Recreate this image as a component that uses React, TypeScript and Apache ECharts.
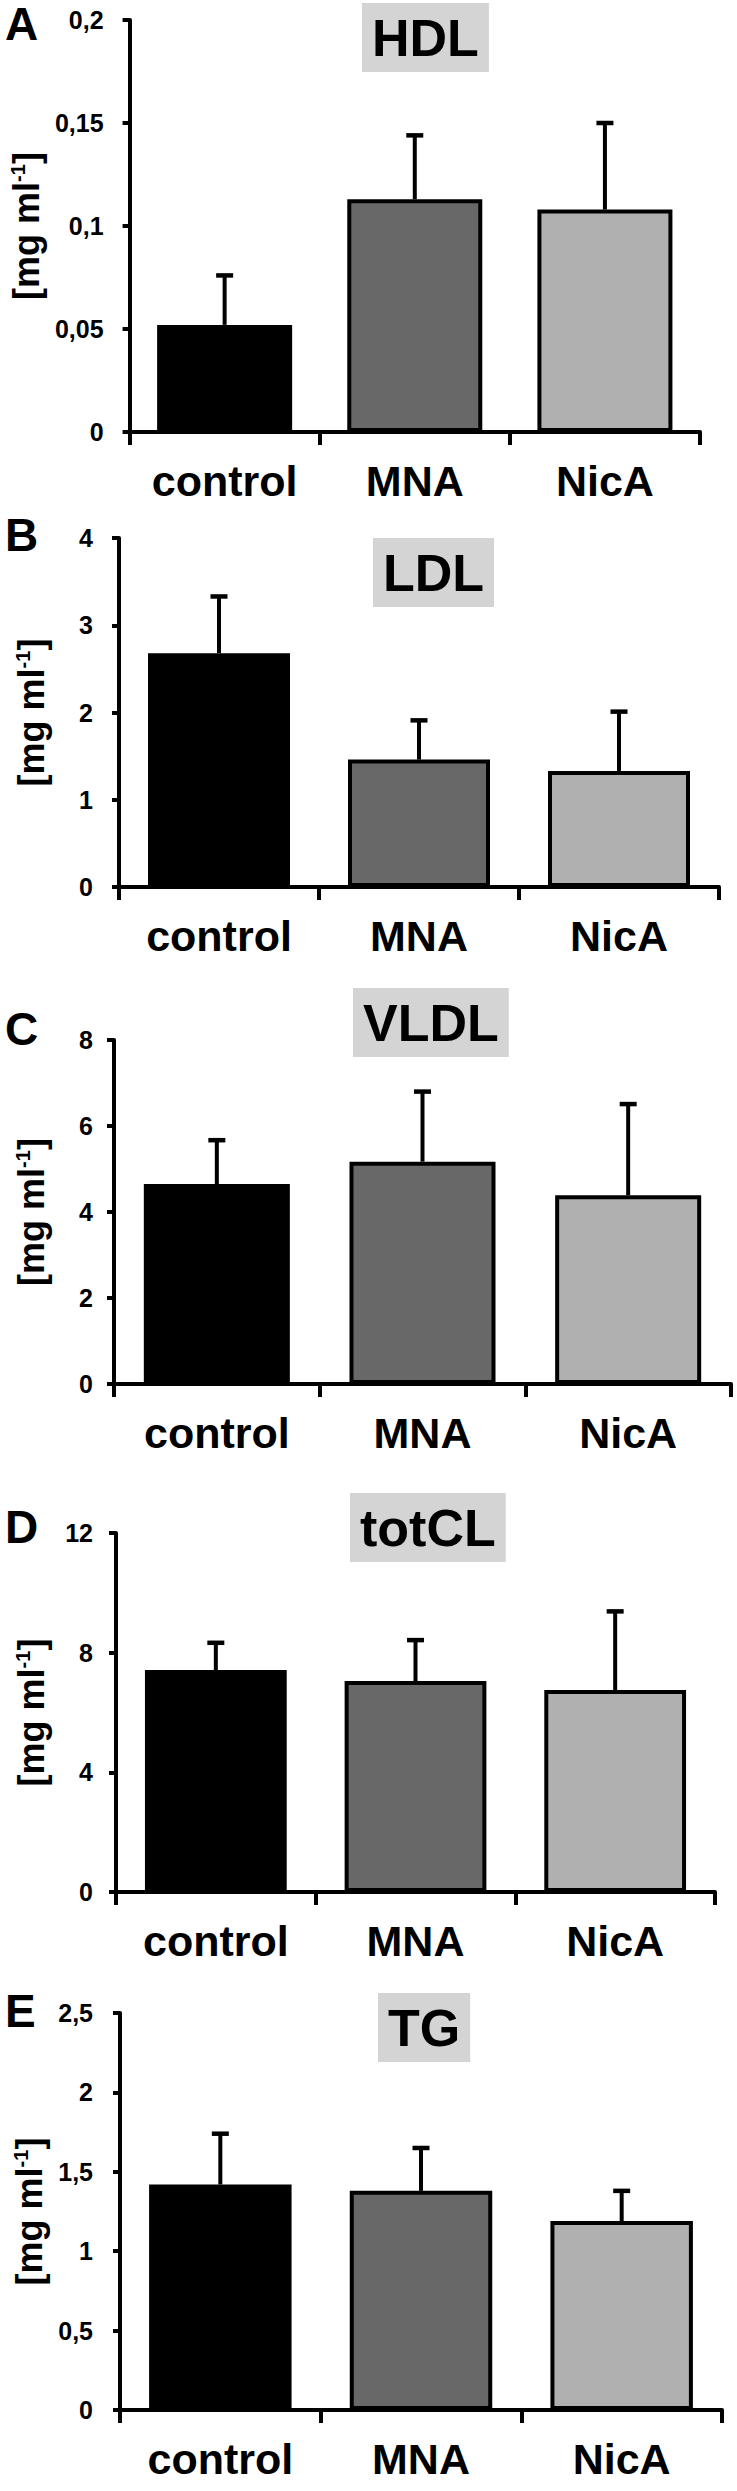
import React, { useEffect, useRef } from "react";
import * as echarts from "echarts";

// ---------- data ----------
const categories = ["control", "MNA", "NicA"];
const panelLetters = ["A", "B", "C", "D", "E"];
const panelTitles = ["HDL", "LDL", "VLDL", "totCL", "TG"];

const hdlMean = [0.052, 0.113, 0.108];
const hdlSd = [0.024, 0.031, 0.042];
const ldlMean = [2.68, 1.46, 1.33];
const ldlSd = [0.65, 0.45, 0.68];
const vldlMean = [4.65, 5.17, 4.39];
const vldlSd = [1.02, 1.63, 2.12];
const totclMean = [7.42, 7.05, 6.75];
const totclSd = [0.91, 1.37, 2.63];
const tgMean = [1.42, 1.38, 1.19];
const tgSd = [0.32, 0.27, 0.19];

const hdlTicks = ["0", "0,05", "0,1", "0,15", "0,2"];
const ldlTicks = ["0", "1", "2", "3", "4"];
const vldlTicks = ["0", "2", "4", "6", "8"];
const totclTicks = ["0", "4", "8", "12"];
const tgTicks = ["0", "0,5", "1", "1,5", "2", "2,5"];

const yMax = [0.2, 4, 8, 12, 2.5];
const yInterval = [0.05, 1, 2, 4, 0.5];
const yUnit = "[mg ml{s|-1}]";

const means = [hdlMean, ldlMean, vldlMean, totclMean, tgMean];
const sds = [hdlSd, ldlSd, vldlSd, totclSd, tgSd];
const ticks = [hdlTicks, ldlTicks, vldlTicks, totclTicks, tgTicks];

// ---------- layout & style ----------
const layout = [
  { left: 119, right: 700, top: 20, bottom: 432, titleLeft: 362, titleTop: 3, letterTop: 1 },
  { left: 119, right: 719, top: 538, bottom: 887, titleLeft: 373, titleTop: 538, letterTop: 512 },
  { left: 114, right: 731, top: 1040, bottom: 1384, titleLeft: 353, titleTop: 988, letterTop: 1006 },
  { left: 116, right: 715, top: 1533, bottom: 1892, titleLeft: 350, titleTop: 1493, letterTop: 1504 },
  { left: 120, right: 722, top: 2013, bottom: 2410, titleLeft: 378, titleTop: 1993, letterTop: 1988 },
];
const barColors = ["#000000", "#686868", "#b0b0b0"];
const SANS = '"Liberation Sans", Arial, sans-serif';

export default function App() {
  const ref = useRef<HTMLDivElement>(null);

  useEffect(() => {
    document.body.style.margin = "0";
    const chart = echarts.init(ref.current!, null, { renderer: "svg" });

    const grid: any[] = [];
    const xAxis: any[] = [];
    const yAxis: any[] = [];
    const series: any[] = [];
    const title: any[] = [];
    const graphic: any[] = [];

    layout.forEach((L, i) => {
      grid.push({
        left: L.left,
        top: L.top,
        width: L.right - L.left,
        height: L.bottom - L.top,
        containLabel: false,
      });
      xAxis.push({
        type: "category",
        gridIndex: i,
        data: categories,
        axisLine: { lineStyle: { color: "#000", width: 4 } },
        axisTick: { show: true, length: 13, lineStyle: { color: "#000", width: 4 } },
        axisLabel: {
          margin: 27,
          color: "#000",
          fontSize: 43,
          fontWeight: "bold",
          fontFamily: SANS,
          interval: 0,
        },
      });
      const tk = ticks[i];
      yAxis.push({
        type: "value",
        gridIndex: i,
        min: 0,
        max: yMax[i],
        interval: yInterval[i],
        splitLine: { show: false },
        axisLine: { show: true, lineStyle: { color: "#000", width: 4 } },
        axisTick: { show: true, length: 7, lineStyle: { color: "#000", width: 4 } },
        axisLabel: {
          margin: L.left - 93,
          color: "#000",
          fontSize: 25,
          fontWeight: "bold",
          fontFamily: SANS,
          formatter: (_v: number, idx: number) => tk[idx] ?? "",
        },
        name: yUnit,
        nameLocation: "middle",
        nameGap: L.left - 49,
        nameTextStyle: {
          color: "#000",
          fontSize: 36,
          fontWeight: "bold",
          fontFamily: SANS,
          rich: {
            s: {
              color: "#000",
              fontSize: 20,
              fontWeight: "bold",
              fontFamily: SANS,
              verticalAlign: "top",
            },
          },
        },
      });
      series.push({
        type: "bar",
        xAxisIndex: i,
        yAxisIndex: i,
        barWidth: "71%",
        data: means[i].map((v, j) => ({
          value: v,
          itemStyle: { color: barColors[j] },
        })),
        itemStyle: { borderColor: "#000", borderWidth: 4 },
        z: 2,
      });
      series.push({
        type: "custom",
        xAxisIndex: i,
        yAxisIndex: i,
        z: 3,
        data: means[i].map((v, j) => [j, v, v + sds[i][j]]),
        renderItem: (_params: any, api: any) => {
          const x = api.value(0);
          const p0 = api.coord([x, api.value(1)]);
          const p1 = api.coord([x, api.value(2)]);
          return {
            type: "group",
            children: [
              {
                type: "line",
                shape: { x1: p0[0], y1: p0[1], x2: p1[0], y2: p1[1] },
                style: { stroke: "#000", lineWidth: 4 },
              },
              {
                type: "line",
                shape: { x1: p1[0] - 8.5, y1: p1[1], x2: p1[0] + 8.5, y2: p1[1] },
                style: { stroke: "#000", lineWidth: 4.5 },
              },
            ],
          };
        },
      });
      title.push({
        text: panelTitles[i],
        left: L.titleLeft,
        top: L.titleTop,
        padding: [9, 10, 8, 10],
        backgroundColor: "#d4d4d4",
        textStyle: {
          color: "#000",
          fontSize: 52,
          lineHeight: 52,
          fontWeight: "bold",
          fontFamily: SANS,
        },
      });
      graphic.push({
        type: "text",
        x: 5,
        y: L.letterTop,
        style: {
          text: panelLetters[i],
          fill: "#000",
          font: 'bold 46px "Liberation Sans", Arial, sans-serif',
          align: "left",
          verticalAlign: "top",
        },
      });
    });

    chart.setOption({
      animation: false,
      backgroundColor: "#ffffff",
      title,
      grid,
      xAxis,
      yAxis,
      series,
      graphic,
    });

    return () => chart.dispose();
  }, []);

  return (
    <div
      ref={ref}
      style={{ position: "absolute", left: 0, top: 0, width: 737, height: 2491 }}
    />
  );
}
